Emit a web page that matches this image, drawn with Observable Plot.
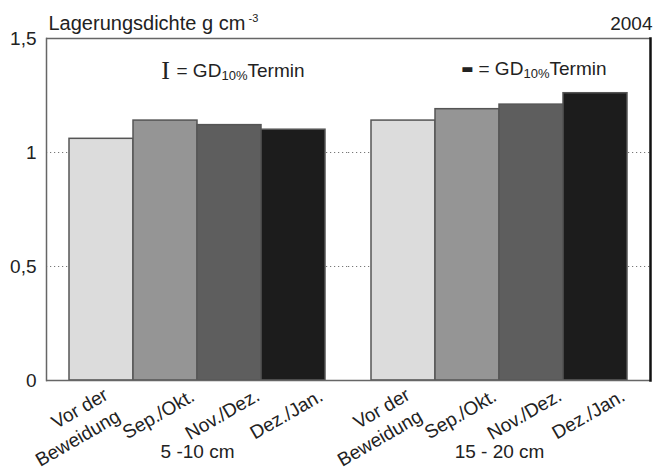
<!DOCTYPE html>
<html><head><meta charset="utf-8">
<script src="https://cdn.jsdelivr.net/npm/d3@7"></script>
<script src="https://cdn.jsdelivr.net/npm/@observablehq/plot@0.6"></script>
<style>body{margin:0;background:#fff}</style>
</head><body><div id="chart"></div>
<script>
const groups = ["5 -10 cm", "15 - 20 cm"];
const periods = ["Vor der\nBeweidung", "Sep./Okt.", "Nov./Dez.", "Dez./Jan."];
const values5to10 = [1.06, 1.14, 1.12, 1.10];
const values15to20 = [1.14, 1.19, 1.21, 1.26];
const colors = ["#dcdcdc", "#959595", "#5e5e5e", "#1c1c1c"];
const yTicks = [0, 0.5, 1, 1.5];
const gridValues = [0.5, 1];
const lsdSymbols = ["I", "\u25AC"];
const titleText = "Lagerungsdichte g cm";
const titleSup = "-3";
const yearText = "2004";
const legendMain = "= GD";
const legendSub = "10%";
const legendTail = "Termin";

const series = [values5to10, values15to20];
const data = groups.flatMap((g, gi) => periods.map((p, i) => ({group: g, period: p, value: series[gi][i]})));
const legendRows = groups.map((g, i) => ({group: g, symbol: lsdSymbols[i], period: periods[1]}));
const firstLabel = data.filter(d => d.period === periods[0]);
const otherLabels = data.filter(d => d.period !== periods[0]);

function legendMarks(rows, symbolOpts, y) {
  return [
    Plot.text(rows, {fx: "group", x: "period", text: "symbol", frameAnchor: "top", dy: y, lineAnchor: "middle", ...symbolOpts}),
    Plot.text(rows, {fx: "group", x: "period", text: () => legendMain, frameAnchor: "top", dy: y, dx: 11, textAnchor: "start", lineAnchor: "middle", fontSize: 19}),
    Plot.text(rows, {fx: "group", x: "period", text: () => legendSub, frameAnchor: "top", dy: y + 5, dx: 56, textAnchor: "start", lineAnchor: "middle", fontSize: 13}),
    Plot.text(rows, {fx: "group", x: "period", text: () => legendTail, frameAnchor: "top", dy: y, dx: 82, textAnchor: "start", lineAnchor: "middle", fontSize: 19})
  ];
}

const chart = Plot.plot({
  width: 654, height: 468,
  marginLeft: 45, marginRight: 4, marginTop: 38, marginBottom: 88,
  style: {fontFamily: "'Liberation Sans', Arial, sans-serif", fontSize: "19px", color: "#222", background: "#fff"},
  fx: {domain: groups, padding: 0, axis: null},
  x: {domain: periods, paddingInner: 0, paddingOuter: 0.34, axis: null},
  y: {domain: [0, 1.5], axis: null},
  color: {domain: periods, range: colors},
  marks: [
    Plot.ruleY(gridValues, {stroke: "#777", strokeDasharray: "1.2,2.8", strokeWidth: 1.2}),
    Plot.barY(data, {fx: "group", x: "period", y: "value", fill: "period", stroke: "#555", strokeWidth: 1.5}),
    Plot.ruleY([0, 1.5], {stroke: "#666", strokeWidth: 1.5}),
    Plot.frame({anchor: "left", facetAnchor: "left", stroke: "#666", strokeWidth: 1.5}),
    Plot.frame({anchor: "right", facetAnchor: "right", stroke: "#111", strokeWidth: 2.5}),
    Plot.axisY({ticks: yTicks, tickSize: 0, tickPadding: 10, tickFormat: d => String(d).replace(".", ","), fontSize: 19, label: null}),
    Plot.text(otherLabels, {fx: "group", x: "period", text: "period", frameAnchor: "bottom", rotate: -30, dx: -7, dy: 34, lineAnchor: "middle", fontSize: 19}),
    Plot.text(firstLabel, {fx: "group", x: "period", text: "period", frameAnchor: "bottom", rotate: -30, textAnchor: "end", lineAnchor: "middle", lineHeight: 1.3, dx: 10, dy: 22, fontSize: 19}),
    Plot.text(groups, {fx: d => d, text: d => d, frameAnchor: "bottom", dy: 77, fontSize: 19}),
    Plot.text([groups[0]], {fx: d => d, text: () => titleText, frameAnchor: "top-left", textAnchor: "start", lineAnchor: "bottom", dx: 2, dy: -9, fontSize: 20}),
    Plot.text([groups[0]], {fx: d => d, text: () => titleSup, frameAnchor: "top-left", textAnchor: "start", lineAnchor: "bottom", dx: 202, dy: -17, fontSize: 11}),
    Plot.text([groups[1]], {fx: d => d, text: () => yearText, frameAnchor: "top-right", textAnchor: "end", lineAnchor: "bottom", dx: 2, dy: -9, fontSize: 19}),
    ...legendMarks([legendRows[0]], {fontFamily: "'Liberation Serif', 'DejaVu Serif', serif", fontSize: 26}, 32),
    ...legendMarks([legendRows[1]], {fontFamily: "'DejaVu Sans', sans-serif", fontSize: 13}, 30)
  ]
});
document.getElementById("chart").append(chart);
</script>
</body></html>
